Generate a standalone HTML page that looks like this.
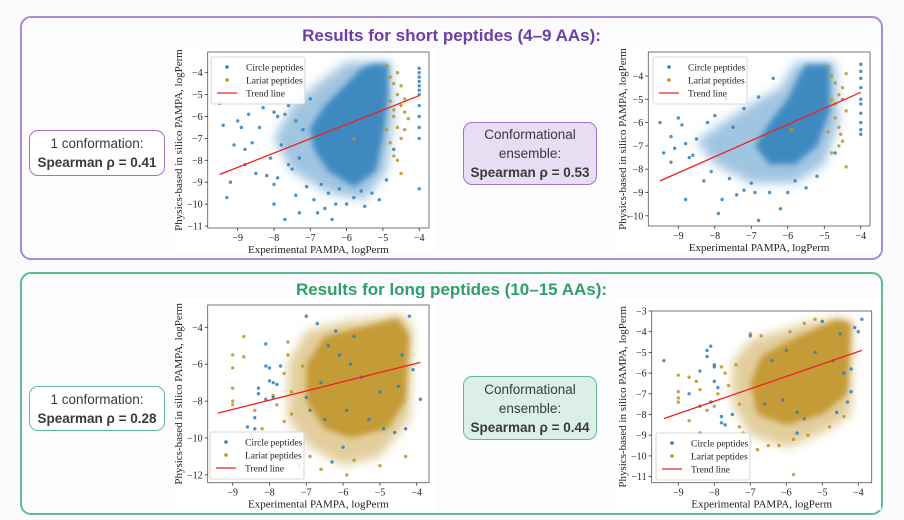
<!DOCTYPE html>
<html><head><meta charset="utf-8"><style>
body{margin:0;background:#fafafd;width:904px;height:520px;overflow:hidden;font-family:"Liberation Sans",sans-serif}
.panel{position:absolute;left:20px;width:863px;border-radius:11px;box-sizing:border-box;background:#fcfcff}
.title{position:absolute;left:0;width:100%;text-align:center;font-weight:bold;font-size:17px}
.box{position:absolute;box-sizing:border-box;border-radius:9px;text-align:center;color:#3a3a3a;font-size:13.5px;line-height:19px;display:flex;flex-direction:column;justify-content:center}
.box b{font-weight:bold}
svg{position:absolute;left:0;top:0}
</style></head><body>
<div class="panel" style="top:16px;height:244px;border:2px solid #a98bd3">
 <div class="title" style="top:8px;color:#6b3fa3">Results for short peptides (4–9 AAs):</div>
</div>
<div class="panel" style="top:272px;height:243px;border:2px solid #5fbc8c">
 <div class="title" style="top:6px;color:#2e9f6a">Results for long peptides (10–15 AAs):</div>
</div>
<div class="box" style="left:29px;top:130px;width:136px;height:46px;border:1.5px solid #9c74cc;background:#fff"><span>1 conformation:</span><b>Spearman ρ = 0.41</b></div>
<div class="box" style="left:463px;top:122px;width:134px;height:63px;border:1.5px solid #9c74cc;background:#e7def4"><span>Conformational</span><span>ensemble:</span><b>Spearman ρ = 0.53</b></div>
<div class="box" style="left:29px;top:386px;width:136px;height:45px;border:1.5px solid #5fbc8c;background:#fff"><span>1 conformation:</span><b>Spearman ρ = 0.28</b></div>
<div class="box" style="left:463px;top:376px;width:134px;height:64px;border:1.5px solid #5fbc8c;background:#dcefe6"><span>Conformational</span><span>ensemble:</span><b>Spearman ρ = 0.44</b></div>
<svg id="s" width="904" height="520"><defs><filter id="soft" x="-20%" y="-20%" width="140%" height="140%"><feGaussianBlur stdDeviation="5"/></filter><filter id="soft2" x="-20%" y="-20%" width="140%" height="140%"><feGaussianBlur stdDeviation="3"/></filter></defs></svg>
<script>
// ---------- data ----------
const xTicks=[-9,-8,-7,-6,-5,-4];
const p1YTicks=[-4,-5,-6,-7,-8,-9,-10,-11];
const p2YTicks=[-4,-5,-6,-7,-8,-9,-10];
const p3YTicks=[-4,-6,-8,-10,-12];
const p4YTicks=[-3,-4,-5,-6,-7,-8,-9,-10,-11];
const p1Trend=[[-9.5,-8.65],[-4,-5.05]];
const p2Trend=[[-9.5,-8.5],[-4,-4.7]];
const p3Trend=[[-9.4,-8.65],[-3.9,-5.9]];
const p4Trend=[[-9.4,-8.2],[-3.9,-4.9]];
const p1Core=[[-5.3,-3.6],[-4.85,-3.6],[-4.85,-5],[-5,-7],[-5.2,-8.5],[-5.8,-9.2],[-6.5,-8.5],[-6.9,-7.5],[-7,-6.5],[-6.6,-5.5],[-6,-4.5],[-5.6,-3.8]];
const p1Outer=[[-6,-3.5],[-4.8,-3.5],[-4.7,-6],[-4.9,-8.5],[-5.5,-9.8],[-6.5,-9.5],[-7.5,-8.5],[-8,-7],[-7.5,-5.5],[-6.8,-4.5]];
const p2Core=[[-5.5,-3.5],[-4.85,-3.5],[-4.85,-5.5],[-5.2,-7],[-5.8,-7.8],[-6.5,-7.8],[-6.9,-7],[-6.5,-6],[-6,-5],[-5.7,-4]];
const p2Outer=[[-5.8,-3.4],[-4.7,-3.4],[-4.6,-6],[-5,-7.8],[-5.8,-8.6],[-7,-8.6],[-8,-7.8],[-8.5,-6.8],[-7.8,-6],[-7,-5.2],[-6.2,-4.5]];
const p3Core=[[-6.5,-4.5],[-4.5,-3.5],[-4.2,-4.5],[-4.3,-8],[-4.8,-9.5],[-5.8,-10],[-6.5,-9.5],[-7,-8],[-7,-6]];
const p3Outer=[[-7,-4.2],[-6,-3.7],[-4.4,-3.3],[-4.1,-4],[-4.2,-9],[-5,-11],[-6,-11.5],[-6.9,-10.5],[-7.5,-9],[-7.5,-6]];
const p4Core=[[-6,-4.5],[-4.6,-3.4],[-4.2,-3.6],[-4.3,-7],[-5,-8],[-6,-8.5],[-6.8,-8],[-7,-6.5],[-6.7,-5.2]];
const p4Outer=[[-7,-4.4],[-5.5,-3.6],[-4.6,-3.3],[-4.15,-3.5],[-4.2,-8],[-5,-8.9],[-6,-9.6],[-7,-9],[-7.5,-7.5],[-7.5,-5.5]];
const p1Blue=[[-9.5,-5.4],[-9.4,-6.4],[-9.2,-9],[-9.3,-9.7],[-9,-6.2],[-8.9,-6.5],[-8.8,-7.5],[-8.6,-7.2],[-8.5,-8.6],[-8.4,-6.5],[-8.2,-8.7],[-8,-5.8],[-8,-9.1],[-8,-10],[-7.9,-6],[-7.8,-7.3],[-7.7,-10.7],[-7.6,-5.5],[-7.5,-8.4],[-7.4,-9.6],[-7.3,-10.4],[-7.2,-6.6],[-7.1,-9.2],[-7,-5.2],[-6.9,-9.8],[-6.8,-10.4],[-6.6,-10.2],[-6.5,-9.5],[-6.4,-10.7],[-6.3,-10],[-6,-10],[-5.8,-9.7],[-5.5,-10.1],[-5.3,-9.5],[-5.1,-9.8],[-8.7,-5.9],[-8.3,-5.6],[-8.1,-7.9],[-7.6,-8.2],[-7.3,-7.9],[-7.9,-8.8],[-8.8,-8.2],[-9.1,-7.3],[-7.4,-6.2],[-7.7,-5.9],[-6.7,-9.1],[-6.2,-9.3],[-5.6,-9.4],[-4.9,-8.9],[-4.7,-7.5],[-4,-3.8],[-4,-4],[-4,-4.2],[-4,-4.4],[-4,-4.6],[-4,-4.8],[-4,-5],[-4,-5.5],[-4,-6],[-4,-6.5],[-4,-7],[-4,-9.3]];
const p1Gold=[[-4.9,-3.7],[-4.8,-4.2],[-4.7,-4.5],[-4.6,-5],[-4.5,-5.5],[-4.4,-5.8],[-4.7,-6],[-4.6,-6.5],[-4.5,-7],[-4.4,-6.6],[-4.8,-7.2],[-4.7,-7.8],[-4.6,-8],[-4.5,-8.6],[-4.8,-5.3],[-4.6,-4],[-4.4,-5.2],[-4.7,-5.7],[-4.3,-6.1],[-5.8,-7],[-4.9,-6.6],[-4.5,-4.6]];
const p2Blue=[[-9.5,-6],[-9.4,-7.3],[-9.2,-6.6],[-9.1,-7.1],[-9,-5.8],[-8.9,-6.1],[-8.8,-9.3],[-8.7,-7.5],[-8.6,-7.4],[-8.5,-6.7],[-8.3,-8.5],[-8.2,-6],[-8,-5.7],[-7.9,-9.9],[-7.8,-9.3],[-7.7,-5],[-7.5,-6.2],[-7.4,-9.1],[-7.2,-8.9],[-7,-8.6],[-6.9,-9],[-6.8,-10.2],[-6.5,-9],[-6.2,-9.7],[-6,-9],[-5.8,-8.5],[-9.2,-7.7],[-8.8,-6.9],[-8.1,-8.1],[-7.6,-8.4],[-6.4,-4.1],[-7.2,-5.4],[-6.8,-4.9],[-5.5,-8.8],[-5.2,-8.3],[-4.7,-7.3],[-4,-3.5],[-4,-3.8],[-4,-4.1],[-4,-4.5],[-4,-5],[-4,-5.2],[-4,-5.6],[-4,-6],[-4,-6.3],[-4,-6.5]];
const p2Gold=[[-4.9,-3.6],[-4.8,-4],[-4.7,-4.3],[-4.6,-4.8],[-4.5,-5],[-4.4,-5.5],[-4.7,-5.8],[-4.6,-6.2],[-4.5,-6.8],[-4.6,-7],[-4.8,-7.3],[-4.4,-7.9],[-4.7,-5.2],[-4.5,-4.5],[-4.9,-6.4],[-5.9,-6.3],[-4.4,-3.9],[-4.8,-5],[-4.55,-6.5]];
const p3Gold=[[-9,-5.5],[-9,-6.2],[-9,-7.3],[-9,-8],[-9,-8.2],[-8.7,-4.5],[-8.7,-5.6],[-8.5,-9.8],[-8.4,-8.5],[-8.2,-9.5],[-8,-10.3],[-7.8,-8.2],[-7.8,-11],[-7.6,-9.1],[-7.5,-5.5],[-7.4,-7.5],[-7.4,-8.7],[-7.3,-10],[-7.2,-11.5],[-7.1,-6.1],[-7.6,-6.5],[-7.9,-7.7],[-6.6,-11.7],[-5.9,-12],[-5.7,-11.2],[-5,-11.5],[-4.3,-11],[-6.9,-11],[-7.5,-4.8],[-8,-10.8]];
const p3Blue=[[-8.1,-4.9],[-8.1,-6.1],[-8,-6.2],[-8,-6.9],[-7.9,-7],[-7.8,-7.1],[-8.3,-7.3],[-8.3,-7.6],[-8.1,-7.9],[-7.9,-7.8],[-8.4,-8.9],[-8.4,-9.5],[-8.6,-9.4],[-7.7,-6.1],[-7,-3.4],[-6.7,-3.8],[-6.2,-4.2],[-6.4,-5],[-6.1,-5.5],[-5.8,-6],[-5.5,-6.7],[-6.5,-9],[-6.3,-11.3],[-6,-10.5],[-5.3,-9],[-5,-7.5],[-4.9,-9.5],[-4.6,-9.7],[-4.3,-9.5],[-4.4,-5.5],[-4.2,-3.4],[-4.1,-6.3],[-3.9,-7.9],[-4.5,-7.2],[-5.7,-4.5],[-6.9,-8.5],[-7,-7.8],[-5.9,-8.5],[-6.6,-7]];
const p4Gold=[[-9,-6.1],[-9,-6.9],[-9,-7.2],[-9,-7.4],[-8.7,-6.2],[-8.7,-8.3],[-8.5,-6.4],[-8.4,-6.8],[-8.2,-7.8],[-8,-7.6],[-7.9,-7],[-7.8,-5.7],[-7.6,-6.6],[-7.4,-5.6],[-7.3,-8.6],[-7.2,-8.9],[-7,-4.1],[-7.1,-9.3],[-6.8,-9.7],[-6.5,-9.5],[-6.2,-9.5],[-5.8,-10.9],[-5.8,-9.2],[-5.4,-9],[-4.8,-8.6],[-4.4,-8.1],[-6.7,-4.2],[-5.9,-4],[-5.5,-3.6],[-5.2,-3.4],[-7.3,-7.5],[-7.7,-6]];
const p4Blue=[[-9.4,-5.4],[-8.7,-7],[-8.4,-5.9],[-8.4,-7.6],[-8.4,-8.9],[-8.2,-4.9],[-8.1,-4.7],[-8.2,-5.2],[-8,-5.6],[-8,-5.7],[-8,-6.4],[-7.9,-6.7],[-8.1,-7.4],[-7.8,-8.1],[-7.8,-8.4],[-7.7,-8.5],[-7.5,-8],[-7,-4.2],[-6.6,-7.5],[-6.4,-5.4],[-6,-4.9],[-5.7,-7.9],[-5.5,-8.2],[-5.2,-5],[-5,-3.5],[-4.7,-5.4],[-4.5,-4.1],[-4.4,-6],[-4.3,-7.4],[-4.2,-6.9],[-4.1,-3.8],[-4,-4],[-3.9,-3.4],[-4.2,-5.8],[-5.7,-8.9],[-6.1,-7.3],[-4.6,-7.9]];

const BLUE='#2f7fbc',GOLD='#bf9226';
const NS='http://www.w3.org/2000/svg';
const svg=document.getElementById('s');
function mk(t,a,p){const e=document.createElementNS(NS,t);for(const k in a)e.setAttribute(k,a[k]);(p||svg).appendChild(e);return e;}

const plots=[
 {id:'p1',bg:[175,48,262,204],box:[207.7,52,429,228],x0:237.7,kx:36.3,yv0:-4,y0:72.7,ky:21.9,yt:p1YTicks,trend:p1Trend,core:p1Core,outer:p1Outer,coreCol:BLUE,blue:p1Blue,gold:p1Gold,leg:[211,57],ylab:179},
 {id:'p2',bg:[615,48,266,204],box:[648.3,52,870,226],x0:678.3,kx:36.5,yv0:-4,y0:76,ky:23.3,yt:p2YTicks,trend:p2Trend,core:p2Core,outer:p2Outer,coreCol:BLUE,blue:p2Blue,gold:p2Gold,leg:[653,57],ylab:623},
 {id:'p3',bg:[175,298,262,212],box:[207.7,305,429,482.7],x0:232.7,kx:36.8,yv0:-4,y0:327.3,ky:18.45,yt:p3YTicks,trend:p3Trend,core:p3Core,outer:p3Outer,coreCol:GOLD,blue:p3Blue,gold:p3Gold,leg:[210,432],ylab:179},
 {id:'p4',bg:[615,298,266,212],box:[651.7,311,871.7,482.7],x0:678.3,kx:36,yv0:-3,y0:311,ky:20.7,yt:p4YTicks,trend:p4Trend,core:p4Core,outer:p4Outer,coreCol:GOLD,blue:p4Blue,gold:p4Gold,leg:[656,433],ylab:623}
];
plots.forEach(P=>{
 const sx=v=>P.x0+(v+9)*P.kx, sy=v=>P.y0+(P.yv0-v)*P.ky;
 const g=mk('g',{});
 
 
 const bg=mk('rect',{x:P.bg[0],y:P.bg[1],width:P.bg[2],height:P.bg[3],fill:'#fff'},g);
 
 
 const clip=mk('clipPath',{id:'c'+P.id},g);
 mk('rect',{x:P.box[0],y:P.box[1],width:P.box[2]-P.box[0],height:P.box[3]-P.box[1]},clip);
 const pg=mk('g',{'clip-path':'url(#c'+P.id+')'},g);
 const poly=(pts,op,name,flt)=>{const e=mk('polygon',{points:pts.map(p=>sx(p[0])+','+sy(p[1])).join(' '),fill:P.coreCol,'fill-opacity':op,filter:'url(#'+flt+')'},pg);
  
  };
 poly(P.outer,0.45,'dense-region-outer','soft');
 poly(P.core,0.85,'dense-region-core','soft2');
 const dots=(arr,col,name)=>arr.forEach(p=>{const c=mk('circle',{cx:sx(p[0]),cy:sy(p[1]),r:1.7,fill:col,'fill-opacity':0.85},pg);
  
  });
 if(P.coreCol===BLUE){dots(P.blue,BLUE,'circle-peptide-point');dots(P.gold,GOLD,'lariat-peptide-point');}
 else{dots(P.gold,GOLD,'lariat-peptide-point');dots(P.blue,BLUE,'circle-peptide-point');}
 const tl=mk('line',{x1:sx(P.trend[0][0]),y1:sy(P.trend[0][1]),x2:sx(P.trend[1][0]),y2:sy(P.trend[1][1]),stroke:'#f02020','stroke-width':1.3},pg);
 
 
 const fr=mk('rect',{x:P.box[0],y:P.box[1],width:P.box[2]-P.box[0],height:P.box[3]-P.box[1],fill:'none',stroke:'#555','stroke-width':0.8},g);
 
 
 const F='font-family:"Liberation Serif",serif;fill:#222';
 xTicks.forEach(v=>{const x=sx(v);mk('line',{x1:x,x2:x,y1:P.box[3],y2:P.box[3]+3,stroke:'#333','stroke-width':0.8},g);
  const t=mk('text',{x:x,y:P.box[3]+13,'text-anchor':'middle',style:F+';font-size:10px'},g);t.textContent='−'+Math.abs(v);
  
  });
 P.yt.forEach(v=>{const y=sy(v);mk('line',{x1:P.box[0]-3,x2:P.box[0],y1:y,y2:y,stroke:'#333','stroke-width':0.8},g);
  const t=mk('text',{x:P.box[0]-5,y:y+3.5,'text-anchor':'end',style:F+';font-size:10px'},g);t.textContent='−'+Math.abs(v);
  
  });
 const xl=mk('text',{x:(P.box[0]+P.box[2])/2,y:P.box[3]+25,'text-anchor':'middle',style:F+';font-size:11px'},g);xl.textContent='Experimental PAMPA, logPerm';
 
 
 const yc=(P.box[1]+P.box[3])/2;
 const yl=mk('text',{x:P.ylab,y:yc,'text-anchor':'middle',transform:'rotate(-90 '+P.ylab+' '+yc+')',style:F+';font-size:11px','dominant-baseline':'central'},g);yl.textContent='Physics-based in silico PAMPA, logPerm';
 
 
 const lg=mk('g',{},g);
 
 
 const lx=P.leg[0],ly=P.leg[1];
 mk('rect',{x:lx,y:ly,width:94,height:47,rx:2,fill:'#fff','fill-opacity':0.85,stroke:'#ccc','stroke-width':0.8},lg);
 [['Circle peptides',BLUE],['Lariat peptides',GOLD],['Trend line','line']].forEach((e,i)=>{const yy=ly+10+i*13;
  if(e[1]==='line')mk('line',{x1:lx+6,x2:lx+26,y1:yy,y2:yy,stroke:'#f02020','stroke-width':1.3},lg);
  else mk('circle',{cx:lx+16,cy:yy,r:1.8,fill:e[1]},lg);
  const t=mk('text',{x:lx+35,y:yy+3.5,style:F+';font-size:9.5px'},lg);t.textContent=e[0];
  
  });
});
</script>
</body></html>
